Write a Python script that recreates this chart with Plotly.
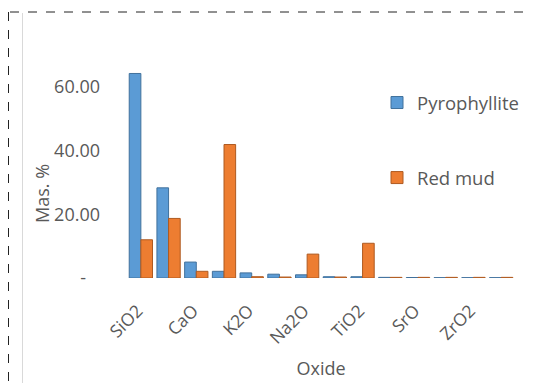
import plotly.graph_objects as go

# Data
categories = ["SiO2", "Al2O3", "CaO", "Fe2O3", "K2O", "MgO", "Na2O",
              "P2O5", "TiO2", "SO3", "SrO", "MnO", "ZrO2", "Cr2O3"]
pyrophyllite = [64.2, 28.3, 5.0, 2.1, 1.6, 1.2, 1.0, 0.4, 0.4, 0.2, 0.15, 0.1, 0.1, 0.1]
red_mud = [12.0, 18.7, 2.1, 41.9, 0.4, 0.3, 7.5, 0.3, 10.9, 0.2, 0.2, 0.2, 0.2, 0.2]
x_tick_labels = ["SiO2", "CaO", "K2O", "Na2O", "TiO2", "SrO", "ZrO2"]
y_tick_values = [0, 20, 40, 60]
y_tick_labels = ["-\u00a0\u00a0\u00a0", "20.00", "40.00", "60.00"]

W, H = 536, 383
OFF = 8  # page body margin offset
# plot area in page pixels: x 127..515, y 55..278
L = 127 - OFF
T = 55 - OFF
R = W - (515 - OFF)
B = H - (278 - OFF)
PW, PH = W - L - R, H - T - B

def px_x(px):
    return (px - OFF - L) / PW

def px_y(py):
    return (H - B - (py - OFF)) / PH

FONT = "Open Sans"
GREY = "#595959"

fig = go.Figure()
fig.add_trace(go.Bar(x=categories, y=pyrophyllite, name="Pyrophyllite",
                     marker=dict(color="#5B9BD5", line=dict(color="#41719C", width=1)),
                     legendgroup="a"))
fig.add_trace(go.Bar(x=categories, y=red_mud, name="Red mud",
                     marker=dict(color="#ED7D31", line=dict(color="#AE5A21", width=1)),
                     legendgroup="b"))

fig.update_layout(
    width=W, height=H,
    margin=dict(l=L, r=R, t=T, b=B, pad=0),
    paper_bgcolor="white", plot_bgcolor="white",
    barmode="group", bargap=0.16, bargroupgap=0.0,
    font=dict(family=FONT, color=GREY, size=18),
    showlegend=True,
    legend=dict(x=px_x(377), y=px_y(84), xanchor="left", yanchor="top",
                bgcolor="rgba(0,0,0,0)", tracegroupgap=48,
                font=dict(family=FONT, size=18.5, color=GREY)),
    xaxis=dict(type="category", categoryorder="array", categoryarray=categories,
               tickmode="array", tickvals=x_tick_labels,
               ticktext=[t + "\u00a0" for t in x_tick_labels],
               tickangle=-45, showgrid=False, showline=False, zeroline=False,
               ticks="", ticklabelstandoff=15,
               tickfont=dict(family=FONT, size=17.5, color=GREY),
               title=dict(text="Oxide", font=dict(family=FONT, size=18, color=GREY),
                          standoff=14)),
    yaxis=dict(range=[0, 70], tickmode="array", tickvals=y_tick_values,
               ticktext=y_tick_labels, showgrid=False, showline=False,
               zeroline=False, ticks="", ticklabelstandoff=26,
               tickfont=dict(family=FONT, size=18, color=GREY)),
    annotations=[dict(text="Mas. %", xref="paper", yref="paper",
                      x=px_x(42), y=px_y(194), textangle=-90, showarrow=False,
                      xanchor="center", yanchor="middle",
                      font=dict(family=FONT, size=18, color=GREY))],
    shapes=[
        dict(type="line", xref="paper", yref="paper",
             x0=px_x(10), x1=px_x(560), y0=px_y(12), y1=px_y(12),
             line=dict(color="#222222", width=1, dash="dash")),
        dict(type="line", xref="paper", yref="paper",
             x0=px_x(8.5), x1=px_x(8.5), y0=px_y(12), y1=px_y(400),
             line=dict(color="#222222", width=1, dash="dash")),
        dict(type="line", xref="paper", yref="paper",
             x0=px_x(22.5), x1=px_x(22.5), y0=px_y(13), y1=px_y(400),
             line=dict(color="#D9D9D9", width=1)),
    ],
)

fig.write_html("out.html")
